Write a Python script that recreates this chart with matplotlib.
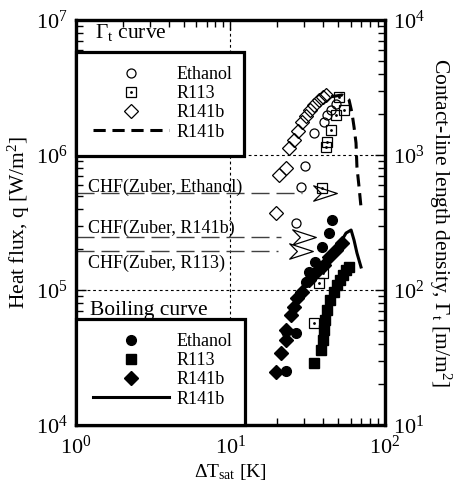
import matplotlib
matplotlib.use('Agg')
import matplotlib.pyplot as plt
from matplotlib.path import Path
from matplotlib.patches import Rectangle
from matplotlib.lines import Line2D
from matplotlib.legend_handler import HandlerTuple

plt.rcParams['font.family'] = ['Liberation Serif', 'DejaVu Serif']
plt.rcParams['mathtext.fontset'] = 'custom'
plt.rcParams['mathtext.rm'] = 'Liberation Serif'
plt.rcParams['mathtext.it'] = 'Liberation Serif:italic'
plt.rcParams['mathtext.default'] = 'regular'

# ---------------- data ----------------
# Contact-line length density (right axis, open symbols)
eth_G_dT = [23.0, 26.7, 28.7, 30.5, 34.8, 40.4, 42.2, 44.8, 48.3]
eth_G = [49, 313, 579, 829, 1455, 1756, 1979, 2154, 2387]

r113_G_dT = [34.8, 37.5, 39.8, 39.2, 41.6, 42.2, 44.8, 48.3, 50.5, 54.4]
r113_G = [57, 113, 134, 570, 1146, 1248, 1532, 1979, 2690, 2154]

r141b_G_dT = [19.8, 20.7, 23.0, 24.0, 25.9, 27.5, 29.1, 31.0, 32.5, 34.8, 37.5, 40.0, 41.6]
r141b_G = [372, 711, 801, 1127, 1292, 1500, 1756, 1950, 2154, 2346, 2555, 2700, 2783]

r141b_Gline_dT = [44.8, 52.8, 58.6, 61.2, 63.1, 65.0, 65.9, 68.0, 70.0]
r141b_Gline = [2700, 2783, 2555, 2048, 1612, 1227, 815, 579, 412]

# Boiling curve (left axis, filled symbols)
eth_q_dT = [23.0, 26.7, 30.9, 32.3, 35.3, 39.2, 43.5, 45.5]
eth_q = [2.51e4, 4.80e4, 1.15e5, 1.36e5, 1.61e5, 2.08e5, 2.64e5, 3.30e5]

r113_q_dT = [34.8, 38.6, 39.8, 40.4, 41.0, 42.2, 44.1, 46.9, 49.0, 51.3, 53.6, 56.0, 58.6]
r113_q = [2.88e4, 3.60e4, 4.27e4, 5.06e4, 6.0e4, 7.11e4, 8.43e4, 9.66e4, 1.09e5,
          1.19e5, 1.29e5, 1.41e5, 1.48e5]

r141b_q_dT = [19.8, 21.3, 23.0, 23.0, 24.8, 25.9, 27.1, 29.1, 32.3, 35.9, 40.4, 43.5, 48.3, 52.8]
r141b_q = [2.47e4, 3.41e4, 4.27e4, 5.06e4, 6.53e4, 7.48e4, 8.73e4, 9.66e4, 1.19e5,
           1.36e5, 1.53e5, 1.75e5, 1.98e5, 2.23e5]

r141b_qline_dT = [40.4, 48.3, 56.0, 60.4, 63.1, 65.9, 70.0]
r141b_qline = [1.53e5, 1.98e5, 2.64e5, 2.78e5, 2.34e5, 1.88e5, 1.48e5]

# CHF (Zuber)
chf_labels = ['CHF(Zuber, Ethanol)', 'CHF(Zuber, R141b)', 'CHF(Zuber, R113)']
chf_q = [5.23e5, 2.45e5, 1.95e5]
chf_dT = [41.0, 30.0, 28.7]

legend_labels = ['Ethanol', 'R113', 'R141b', 'R141b']

# ---------------- figure ----------------
fig = plt.figure(figsize=(4.59, 4.90), dpi=100)
ax = fig.add_axes([0.1656, 0.1327, 0.673, 0.8265])
ax.set_xscale('log')
ax.set_yscale('log')
ax.set_xlim(1, 100)
ax.set_ylim(1e4, 1e7)
ax2 = ax.twinx()
ax2.set_yscale('log')
ax2.set_ylim(10, 1e4)

for a in (ax, ax2):
    for s in a.spines.values():
        s.set_linewidth(2.3)

ax.set_axisbelow(True)
ax.grid(True, which='major', ls=(0, (2.5, 2.5)), lw=0.8, color='k')

ax.tick_params(which='both', direction='in', top=True, right=False, labelsize=16, width=1)
ax.tick_params(which='major', length=7, pad=6)
ax.tick_params(which='minor', length=5)
ax.tick_params(axis='x', pad=8)
ax2.tick_params(which='both', direction='in', labelsize=16, width=1)
ax2.tick_params(which='major', length=7, pad=6)
ax2.tick_params(which='minor', length=5)

ax.set_xlabel('ΔT$_{sat}$ [K]', fontsize=14, labelpad=2)
ax.set_ylabel('Heat flux, q [W/m$^2$]', fontsize=15.5, labelpad=3)
ax2.set_ylabel('Contact-line length density, Γ$_t$ [m/m$^2$]', fontsize=15.5,
               rotation=-90, labelpad=20)

# CHF lines, labels and arrows
arrow = Path([(1, 0), (-1, 0.65), (-0.35, 0), (-1, -0.65), (1, 0)],
             [Path.MOVETO, Path.LINETO, Path.LINETO, Path.LINETO, Path.CLOSEPOLY])
for lab, q, dT in zip(chf_labels, chf_q, chf_dT):
    ax.plot([1, dT / 1.42], [q, q], ls=(0, (13, 5)), lw=1.0, color='0.25', zorder=2)
    ax.plot([dT], [q], marker=arrow, ms=17, mfc='white', mec='k', mew=0.9,
            ls='none', zorder=3)
y_txt = [0.588, 0.486, 0.400]
for lab, yy in zip(chf_labels, y_txt):
    ax.text(0.039, yy, lab, transform=ax.transAxes, fontsize=13, va='center', ha='left')

# boiling curves (left axis)
ax.plot(r141b_qline_dT, r141b_qline, '-', color='k', lw=2.2, zorder=3)
ax.plot(eth_q_dT, eth_q, 'o', ms=7, color='k', ls='none', zorder=4)
ax.plot(r113_q_dT, r113_q, 's', ms=7, color='k', ls='none', zorder=4)
ax.plot(r141b_q_dT, r141b_q, 'D', ms=7.5, color='k', ls='none', zorder=4)

# contact-line curves (right axis)
ax2.plot(r141b_Gline_dT, r141b_Gline, color='k', lw=2.2, ls=(0, (4, 2.2)), zorder=3)
ax2.plot(eth_G_dT, eth_G, 'o', ms=6.5, mfc='none', mec='k', mew=0.9, ls='none', zorder=4)
ax2.plot(r113_G_dT, r113_G, 's', ms=6.5, mfc='none', mec='k', mew=0.9, ls='none', zorder=4)
ax2.plot(r113_G_dT, r113_G, '.', ms=2, color='k', ls='none', zorder=4)
ax2.plot(r141b_G_dT, r141b_G, 'D', ms=7.5, mfc='none', mec='k', mew=0.9, ls='none', zorder=4)

# legend boxes
ax2.add_patch(Rectangle((0, 0.664), 0.544, 0.257, transform=ax2.transAxes,
                        facecolor='white', edgecolor='k', lw=2.3, zorder=6, clip_on=False))
ax2.add_patch(Rectangle((0, 0.0), 0.547, 0.262, transform=ax2.transAxes,
                        facecolor='white', edgecolor='k', lw=2.3, zorder=6, clip_on=False))

ax2.text(0.061, 0.956, 'Γ$_t$ curve', transform=ax2.transAxes, fontsize=15.5,
         va='baseline', ha='left', zorder=7)
ax2.text(0.045, 0.272, 'Boiling curve', transform=ax2.transAxes, fontsize=15.5,
         va='baseline', ha='left', zorder=7)

h_open = [
    Line2D([], [], marker='o', ms=6.5, mfc='none', mec='k', mew=0.9, ls='none'),
    (Line2D([], [], marker='s', ms=6.5, mfc='none', mec='k', mew=0.9, ls='none'),
     Line2D([], [], marker='.', ms=2, color='k', ls='none')),
    Line2D([], [], marker='D', ms=7.5, mfc='none', mec='k', mew=0.9, ls='none'),
    Line2D([], [], color='k', lw=2.2, ls=(0, (4, 2.2))),
]
h_fill = [
    Line2D([], [], marker='o', ms=7, color='k', ls='none'),
    Line2D([], [], marker='s', ms=7, color='k', ls='none'),
    Line2D([], [], marker='D', ms=7.5, color='k', ls='none'),
    Line2D([], [], color='k', lw=2.2),
]
common = dict(frameon=False, fontsize=13, handlelength=4.2, handletextpad=0.4,
              labelspacing=0.12, borderpad=0, borderaxespad=0, loc='upper left',
              handler_map={tuple: HandlerTuple(ndivide=1)})
leg1 = ax2.legend(h_open, legend_labels, bbox_to_anchor=(0.055, 0.886), **common)
leg1.set_zorder(8)
ax2.add_artist(leg1)
leg2 = ax2.legend(h_fill, legend_labels, bbox_to_anchor=(0.055, 0.227), **common)
leg2.set_zorder(8)

fig.savefig('out.png', dpi=100)
